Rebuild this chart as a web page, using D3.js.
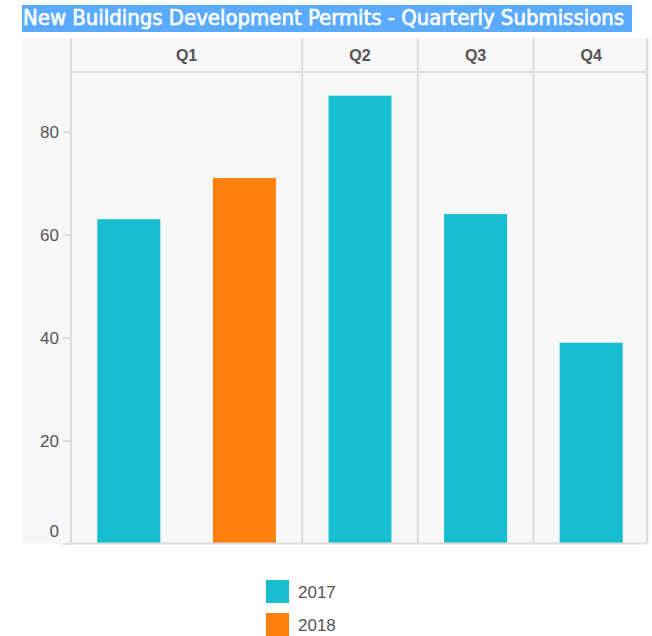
<!DOCTYPE html>
<html>
<head>
<meta charset="utf-8">
<script src="https://cdn.jsdelivr.net/npm/d3@7"></script>
<style>
  body { margin: 0; background: #fff; }
  svg { display: block; }
</style>
</head>
<body>
<script>
// chart data
var quarters = ["Q1", "Q2", "Q3", "Q4"];
var years = ["2017", "2018"];
var values2017 = [63, 87, 64, 39];
var values2018 = [71, null, null, null];
var yTicks = [0, 20, 40, 60, 80];
var colors = ["#17becf", "#ff7f0e"];

var width = 652,
    height = 636;

var plotLeft = 71, plotRight = 649, plotTop = 72, plotBottom = 543.5;

var svg = d3.select("body").append("svg")
    .attr("width", width)
    .attr("height", height);

// title bar
svg.append("rect")
    .attr("x", 22).attr("y", 5)
    .attr("width", 610).attr("height", 27)
    .attr("fill", "#5aabff");
svg.append("text")
    .attr("x", 23).attr("y", 25)
    .attr("font-family", "DejaVu Sans Condensed, DejaVu Sans")
    .attr("font-size", 20.5)
    .attr("textLength", 601)
    .attr("lengthAdjust", "spacingAndGlyphs")
    .attr("fill", "#fff")
    .attr("stroke", "#fff")
    .attr("stroke-width", 0.6)
    .text("New Buildings Development Permits - Quarterly Submissions");

// plot background
svg.append("rect")
    .attr("x", 22).attr("y", 38)
    .attr("width", 628).attr("height", plotBottom - 38)
    .attr("fill", "#f7f7f7");

// flatten into bars, one band per (quarter, year) that has a value
var bars = [];
quarters.forEach(function(q, i) {
    [values2017[i], values2018[i]].forEach(function(v, j) {
        if (v != null) bars.push({ q: q, year: years[j], value: v, key: q + "-" + years[j], color: colors[j] });
    });
});

var x = d3.scaleBand()
    .domain(bars.map(function(d) { return d.key; }))
    .range([plotLeft, plotRight])
    .padding(0);

var y = d3.scaleLinear()
    .domain([0, 91.6])
    .range([plotBottom, plotTop]);

var barW = x.bandwidth() * 0.545;

svg.selectAll("rect.bar")
    .data(bars)
  .enter().append("rect")
    .attr("class", "bar")
    .attr("x", function(d) { return x(d.key) + (x.bandwidth() - barW) / 2; })
    .attr("y", function(d) { return y(d.value); })
    .attr("width", barW)
    .attr("height", function(d) { return y(0) - y(d.value); })
    .attr("fill", function(d) { return d.color; });

// facet extents
var facets = quarters.map(function(q) {
    var ks = bars.filter(function(d) { return d.q === q; });
    return { q: q, x0: x(ks[0].key), x1: x(ks[ks.length - 1].key) + x.bandwidth() };
});

var grid = svg.append("g").attr("stroke", "#dcdcdc").attr("stroke-width", 2);
facets.forEach(function(f) {
    grid.append("line").attr("x1", f.x0).attr("x2", f.x0).attr("y1", 38).attr("y2", plotBottom);
});
grid.append("line").attr("x1", plotRight - 2).attr("x2", plotRight - 2).attr("y1", 38).attr("y2", plotBottom);
grid.append("line").attr("x1", plotLeft).attr("x2", plotRight - 2).attr("y1", plotTop).attr("y2", plotTop);
grid.append("line").attr("x1", plotLeft).attr("x2", plotRight - 2).attr("y1", plotBottom).attr("y2", plotBottom);

svg.selectAll("text.facet")
    .data(facets)
  .enter().append("text")
    .attr("class", "facet")
    .attr("x", function(f) { return (f.x0 + f.x1) / 2; })
    .attr("y", 61)
    .attr("text-anchor", "middle")
    .attr("font-family", "Liberation Sans, Arial")
    .attr("font-weight", "bold")
    .attr("font-size", 16)
    .attr("fill", "#555")
    .text(function(f) { return f.q; });

// y axis
var yAxis = svg.append("g")
    .attr("transform", "translate(" + plotLeft + ",0)")
    .call(d3.axisLeft(y).tickValues(yTicks).tickSize(8).tickPadding(4));
yAxis.select(".domain").remove();
yAxis.selectAll(".tick line").attr("stroke", "#dcdcdc").attr("stroke-width", 2);
yAxis.selectAll(".tick text")
    .attr("font-family", "Liberation Sans, Arial")
    .attr("font-size", 17)
    .attr("fill", "#555")
    .attr("dy", function(d) { return d === 0 ? "-0.4em" : "0.32em"; });

// legend
var legend = svg.selectAll("g.legend")
    .data(years)
  .enter().append("g")
    .attr("class", "legend")
    .attr("transform", function(d, i) { return "translate(266," + (580 + i * 33) + ")"; });
legend.append("rect")
    .attr("width", 23).attr("height", 23)
    .attr("fill", function(d, i) { return colors[i]; });
legend.append("text")
    .attr("x", 32).attr("y", 18)
    .attr("font-family", "Liberation Sans, Arial")
    .attr("font-size", 17)
    .attr("fill", "#555")
    .text(function(d) { return d; });
</script>
</body>
</html>
